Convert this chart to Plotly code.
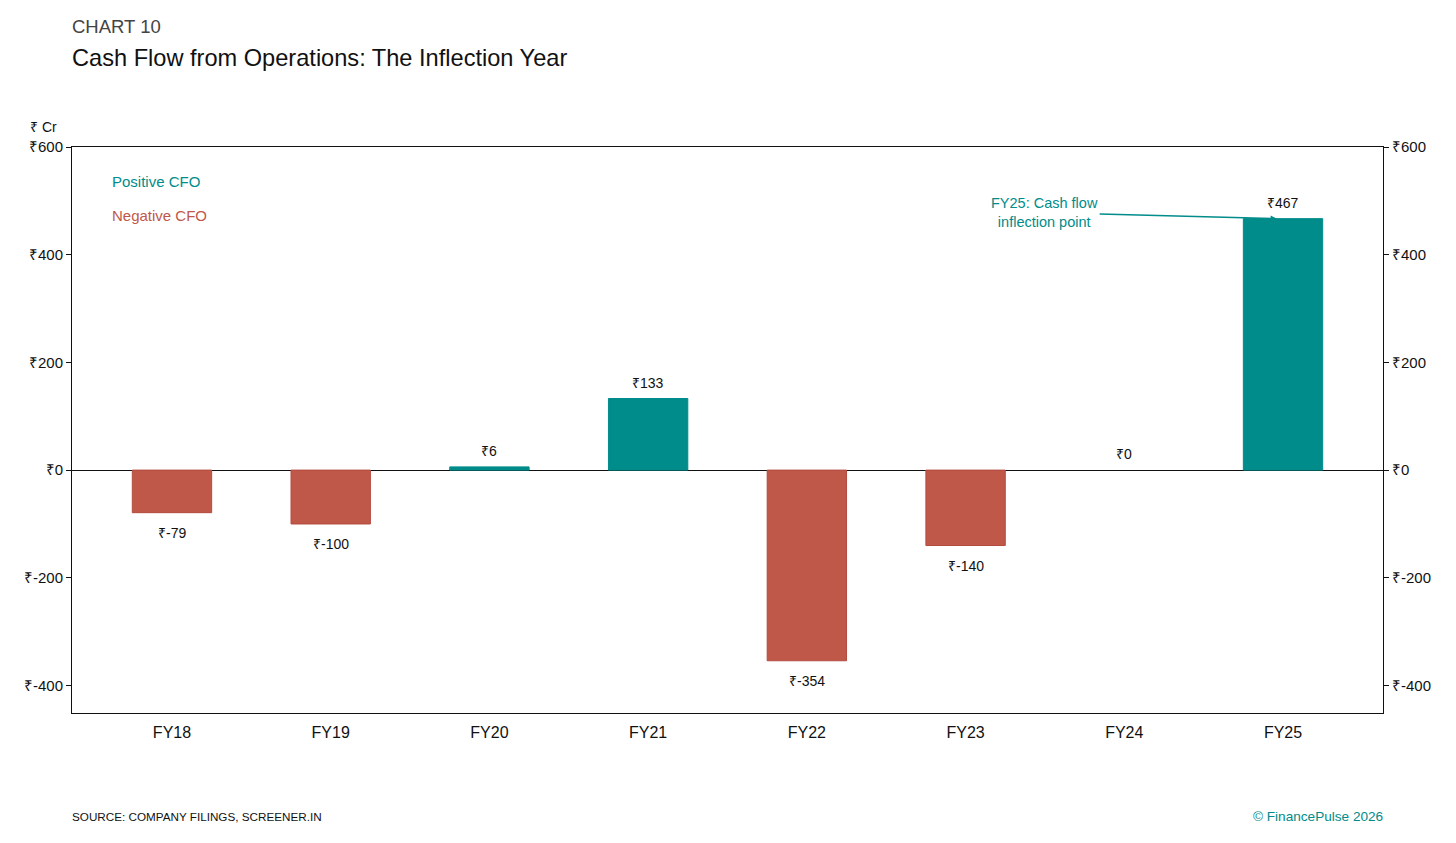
import plotly.graph_objects as go

years = ["FY18", "FY19", "FY20", "FY21", "FY22", "FY23", "FY24", "FY25"]
cfo = [-79, -100, 6, 133, -354, -140, 0, 467]
y_ticks = [-400, -200, 0, 200, 400, 600]
y_tick_labels = ["₹-400", "₹-200", "₹0", "₹200", "₹400", "₹600"]

TEAL = "#008C8A"
RED = "#C0584A"
RED_EDGE = "#B24A3E"
FONT = "Liberation Sans, Arial, Helvetica, sans-serif"

colors = [TEAL if v > 0 else RED for v in cfo]
edges = [TEAL if v > 0 else RED_EDGE for v in cfo]
edge_w = [0 if v == 0 else 1 for v in cfo]

fig = go.Figure()
fig.add_trace(go.Bar(
    x=years, y=cfo, width=0.5,
    marker=dict(color=colors, line=dict(color=edges, width=edge_w)),
    hoverinfo="skip", showlegend=False,
))
fig.add_trace(go.Scatter(x=years, y=cfo, yaxis="y2", mode="none",
                         hoverinfo="skip", showlegend=False))

annotations = []
for yr, v in zip(years, cfo):
    annotations.append(dict(x=yr, y=v, text=f"₹{v}", showarrow=False,
                            yshift=16 if v >= 0 else -20,
                            font=dict(size=14, color="#111", family=FONT)))

annotations += [
    dict(x=6.96, y=cfo[7], text="FY25: Cash flow<br>inflection point", showarrow=True,
         ax=-232, ay=-6, arrowhead=2, arrowsize=0.8, arrowwidth=1.5, arrowcolor=TEAL,
         font=dict(size=14.5, color=TEAL, family=FONT), align="center"),
    dict(xref="paper", yref="paper", x=0.029, y=0.958, text="Positive CFO", showarrow=False,
         xanchor="left", font=dict(size=15, color=TEAL, family=FONT)),
    dict(xref="paper", yref="paper", x=0.029, y=0.897, text="Negative CFO", showarrow=False,
         xanchor="left", font=dict(size=15, color=RED, family=FONT)),
    dict(xref="paper", yref="paper", x=-0.010, y=1.035, text="₹ Cr", showarrow=False,
         xanchor="right", yanchor="middle", font=dict(size=14, color="#111", family=FONT)),
    dict(xref="paper", yref="paper", x=-0.0015, y=-0.183, text="SOURCE: COMPANY FILINGS, SCREENER.IN",
         showarrow=False, xanchor="left", yanchor="middle", font=dict(size=11.7, color="#111", family=FONT)),
    dict(xref="paper", yref="paper", x=1.0015, y=-0.183, text="© FinancePulse 2026",
         showarrow=False, xanchor="right", yanchor="middle", font=dict(size=13.6, color=TEAL, family=FONT)),
    dict(xref="paper", yref="paper", x=-0.0015, y=1.213, text="CHART 10",
         showarrow=False, xanchor="left", yanchor="middle", font=dict(size=18.5, color="#444", family=FONT)),
    dict(xref="paper", yref="paper", x=-0.0015, y=1.158, text="Cash Flow from Operations: The Inflection Year",
         showarrow=False, xanchor="left", yanchor="middle", font=dict(size=23.6, color="#111", family=FONT)),
]

yrange = [-451, 600]
fig.update_layout(
    width=1456, height=843,
    margin=dict(l=64, r=81, t=139, b=138),
    plot_bgcolor="white", paper_bgcolor="white",
    font=dict(family=FONT, size=15, color="#111"),
    annotations=annotations,
    xaxis=dict(range=[-0.63, 7.63], showgrid=False, zeroline=False, ticks="",
               showline=True, linecolor="#111", linewidth=1, mirror=True,
               tickfont=dict(size=16, color="#111"), ticklabelstandoff=5),
    yaxis=dict(range=yrange, tickvals=y_ticks, ticktext=y_tick_labels, showgrid=False,
               zeroline=True, zerolinecolor="#111", zerolinewidth=1,
               ticks="outside", ticklen=5, tickcolor="#111",
               showline=True, linecolor="#111", linewidth=1,
               tickfont=dict(size=15, color="#111")),
    yaxis2=dict(range=yrange, tickvals=y_ticks, ticktext=y_tick_labels, overlaying="y",
                side="right", showgrid=False, zeroline=False,
                ticks="outside", ticklen=5, tickcolor="#111",
                showline=True, linecolor="#111", linewidth=1,
                tickfont=dict(size=15, color="#111")),
    bargap=0.5,
)

fig.write_html("out.html")
